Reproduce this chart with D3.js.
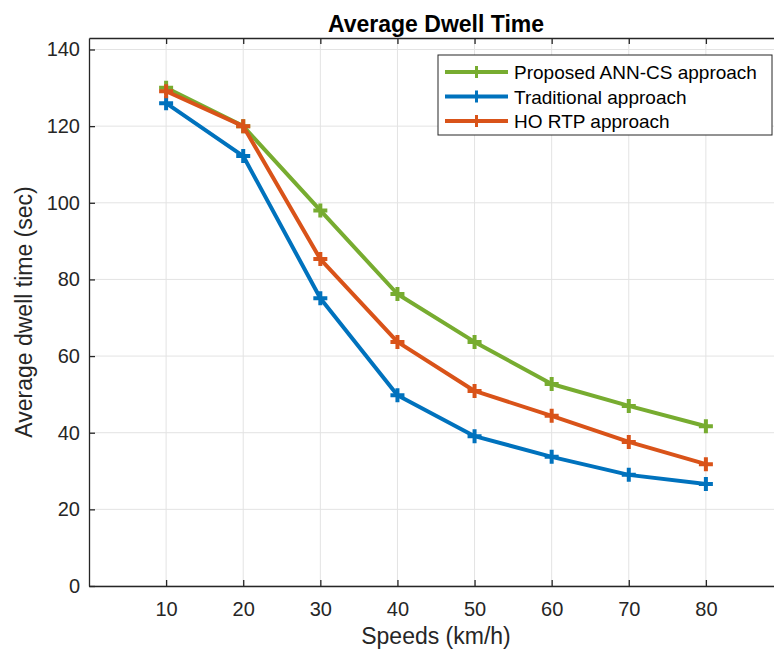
<!DOCTYPE html>
<html><head><meta charset="utf-8">
<script src="https://cdn.jsdelivr.net/npm/d3@7"></script>
<style>body{margin:0;background:#fff;} svg{display:block;font-family:"Liberation Sans",Arial,sans-serif;}</style>
</head><body>
<svg id="c" width="774" height="655"></svg>
<script>
const speeds = [10,20,30,40,50,60,70,80];
const proposed = [130,120,98,76.2,63.7,52.7,47,41.7];
const traditional = [126,112.2,75.1,49.8,39.1,33.7,29,26.6];
const hortp = [129.1,120,85.3,63.7,50.9,44.4,37.6,31.8];
const seriesNames = ["Proposed ANN-CS approach","Traditional approach","HO RTP approach"];
const seriesColors = ["#77AC30","#0072BD","#D95319"];
const xTicks = [10,20,30,40,50,60,70,80];
const yTicks = [0,20,40,60,80,100,120,140];

const svg = d3.select("#c");
const L=89, R=783, T=38, B=586;
const x = d3.scaleLinear().domain([0,90]).range([L,R]);
const y = d3.scaleLinear().domain([0,143]).range([B,T]);
const axisCol="#262626";

const g = svg.append("g");
// grid
g.selectAll(".gx").data(xTicks).join("line").attr("x1",d=>x(d)).attr("x2",d=>x(d)).attr("y1",T).attr("y2",B).attr("stroke","#e3e3e3").attr("stroke-width",1);
g.selectAll(".gy").data(yTicks).join("line").attr("y1",d=>y(d)).attr("y2",d=>y(d)).attr("x1",L).attr("x2",R).attr("stroke","#e3e3e3").attr("stroke-width",1);

// axes
const xb = d3.axisBottom(x).tickValues(xTicks).tickSizeInner(-6).tickSizeOuter(0).tickPadding(16);
const xt = d3.axisTop(x).tickValues(xTicks).tickSizeInner(-6).tickSizeOuter(0).tickFormat("");
const yl = d3.axisLeft(y).tickValues(yTicks).tickSizeInner(-6).tickSizeOuter(0).tickPadding(9);
function style(sel){sel.selectAll("path").attr("stroke",axisCol).attr("stroke-width",1.3);sel.selectAll("line").attr("stroke",axisCol).attr("stroke-width",1.3);sel.selectAll("text").attr("fill",axisCol).attr("font-size",20).attr("font-family","Liberation Sans, Arial, sans-serif");}
g.append("g").attr("transform",`translate(0,${B})`).call(xb).call(style);
g.append("g").attr("transform",`translate(0,${T})`).call(xt).call(style);
g.append("g").attr("transform",`translate(${L},0)`).call(yl).call(style);

const data = [proposed,traditional,hortp];
const line = d3.line().x((d,i)=>x(speeds[i])).y(d=>y(d));
[0,1,2].forEach(k=>{
  g.append("path").datum(data[k]).attr("d",line).attr("fill","none").attr("stroke",seriesColors[k]).attr("stroke-width",4).attr("stroke-linejoin","round");
  const m = 7;
  g.selectAll(null).data(data[k]).join("path")
    .attr("d",(d,i)=>{const cx=x(speeds[i]),cy=y(d);return `M${cx-m},${cy}H${cx+m}M${cx},${cy-m}V${cy+m}`;})
    .attr("stroke",seriesColors[k]).attr("stroke-width",4).attr("fill","none");
});

// title & labels
svg.append("text").attr("x",(L+R)/2).attr("y",32).attr("text-anchor","middle").attr("font-weight","bold").attr("font-size",23).attr("fill","#000").text("Average Dwell Time");
svg.append("text").attr("x",(L+R)/2).attr("y",644).attr("text-anchor","middle").attr("font-size",23).attr("fill",axisCol).text("Speeds (km/h)");
svg.append("text").attr("transform",`translate(32,${(T+B)/2}) rotate(-90)`).attr("text-anchor","middle").attr("font-size",23).attr("fill",axisCol).text("Average dwell time (sec)");

// legend
const lg = svg.append("g");
lg.append("rect").attr("x",438).attr("y",55).attr("width",334).attr("height",80).attr("fill","#fff").attr("stroke",axisCol).attr("stroke-width",1);
seriesNames.forEach((n,i)=>{
  const yy = 72 + i*24.5;
  lg.append("line").attr("x1",445).attr("x2",508).attr("y1",yy).attr("y2",yy).attr("stroke",seriesColors[i]).attr("stroke-width",4);
  lg.append("path").attr("d",`M${476.5-6},${yy}H${476.5+6}M476.5,${yy-6}V${yy+6}`).attr("stroke",seriesColors[i]).attr("stroke-width",3);
  lg.append("text").attr("x",514).attr("y",yy+7).attr("font-size",19).attr("fill","#000").text(n);
});
</script>
</body></html>
